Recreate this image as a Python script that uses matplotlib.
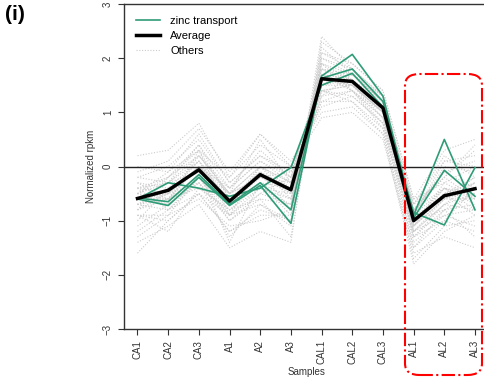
import matplotlib
matplotlib.use("Agg")
import matplotlib.pyplot as plt
from matplotlib.patches import FancyBboxPatch
from matplotlib.lines import Line2D

plt.rcParams['font.family'] = ['Liberation Sans', 'DejaVu Sans']

samples = ["CA1", "CA2", "CA3", "A1", "A2", "A3", "CAL1", "CAL2", "CAL3", "AL1", "AL2", "AL3"]

average = [-0.59, -0.44, -0.06, -0.64, -0.15, -0.43, 1.62, 1.57, 1.08, -1.00, -0.54, -0.41]

zinc_1 = [-0.58, -0.65, -0.15, -0.70, -0.30, -0.80, 1.63, 1.80, 1.20, -0.90, 0.50, -0.80]
zinc_2 = [-0.60, -0.72, -0.20, -0.72, -0.35, -1.05, 1.67, 2.07, 1.30, -0.95, -0.07, -0.55]
zinc_3 = [-0.60, -0.30, -0.40, -0.55, -0.40, -0.02, 1.50, 1.72, 1.10, -0.85, -1.08, -0.02]

others = [
    [-0.6, -0.5, 0.1, -0.7, -0.2, -0.5, 1.7, 1.6, 1.1, -1.1, -0.6, -0.3],
    [-0.4, -0.3, 0.2, -0.5, 0.0, -0.3, 1.5, 1.5, 1.0, -0.9, -0.4, -0.6],
    [-0.8, -0.6, -0.2, -0.9, -0.4, -0.6, 1.9, 1.4, 0.9, -1.3, -0.7, -0.5],
    [-1.6, -1.0, -0.5, -1.2, -0.8, -1.0, 2.4, 1.8, 1.3, -0.8, -0.2, 0.3],
    [0.2, 0.3, 0.8, -0.2, 0.6, 0.1, 1.0, 1.1, 0.6, -1.5, -1.0, -1.2],
    [-0.5, -0.2, 0.4, -0.6, -0.1, -0.4, 1.3, 1.7, 1.2, -1.2, -0.9, -0.8],
    [-0.7, -0.8, -0.3, -1.0, -0.5, -0.7, 1.8, 1.6, 1.0, -0.7, 0.2, -0.2],
    [-0.3, -0.6, 0.0, -0.4, 0.3, -0.2, 1.4, 1.3, 0.8, -1.0, -0.5, -0.9],
    [-1.0, -0.4, -0.1, -1.4, -0.3, -0.9, 2.1, 1.9, 1.4, -0.6, -0.3, 0.0],
    [-0.2, 0.0, 0.5, -0.3, 0.2, -0.1, 1.2, 1.2, 0.7, -1.7, -1.1, -1.0],
    [-0.9, -1.2, -0.4, -0.8, -0.6, -1.3, 1.9, 1.7, 1.2, -0.8, -0.1, -0.4],
    [-0.6, -0.3, -0.1, -0.5, -0.2, -0.3, 1.6, 1.5, 1.1, -1.0, -0.8, -0.5],
    [-0.5, -0.7, 0.3, -0.9, 0.0, -0.6, 1.5, 1.8, 1.2, -1.1, -0.3, -0.6],
    [-1.3, -0.9, -0.6, -1.1, -1.0, -0.8, 2.2, 1.7, 1.3, -0.9, 0.1, 0.2],
    [0.0, -0.1, 0.3, -0.2, 0.4, 0.0, 1.1, 1.3, 0.8, -1.4, -0.9, -1.1],
    [-0.7, -0.5, 0.0, -0.6, -0.4, -0.5, 1.7, 1.4, 1.0, -1.2, -0.6, -0.2],
    [-0.4, -0.8, -0.2, -0.7, -0.1, -0.8, 1.6, 1.6, 1.2, -0.8, -0.4, -0.7],
    [-0.8, -0.2, 0.2, -0.4, 0.1, -0.2, 1.4, 1.5, 0.9, -1.3, -1.0, -0.4],
    [-1.1, -0.7, -0.3, -1.3, -0.7, -1.1, 2.0, 1.8, 1.3, -0.7, -0.2, 0.4],
    [-0.3, -0.4, 0.1, -0.5, 0.5, -0.3, 1.3, 1.4, 0.7, -1.2, -0.7, -0.8],
    [-0.6, -0.6, -0.4, -0.8, -0.3, -0.4, 1.8, 1.5, 1.0, -1.0, -0.5, -0.3],
    [-0.5, -0.1, 0.6, -0.3, 0.2, -0.2, 1.2, 1.4, 0.8, -1.5, -0.8, -1.3],
    [-0.9, -0.9, -0.2, -1.0, -0.6, -0.7, 1.9, 1.6, 1.1, -0.9, 0.0, -0.1],
    [-0.4, -0.5, 0.0, -0.6, -0.2, -0.1, 1.5, 1.7, 1.2, -1.1, -0.6, -0.6],
    [-1.4, -1.1, -0.7, -1.5, -1.2, -1.4, 2.3, 1.9, 1.4, -0.6, 0.3, 0.5],
    [-0.2, -0.3, 0.4, -0.4, 0.1, -0.3, 1.4, 1.2, 0.6, -1.8, -1.2, -0.9],
    [-0.7, -0.4, -0.1, -0.7, -0.3, -0.6, 1.7, 1.5, 1.0, -1.0, -0.4, -0.5],
    [-0.5, -0.6, 0.2, -0.5, 0.0, -0.4, 1.6, 1.6, 1.1, -1.2, -0.7, -0.3],
    [-0.8, -0.5, -0.3, -0.9, -0.5, -0.2, 1.8, 1.7, 1.3, -0.8, -0.2, -0.6],
    [-0.1, 0.1, 0.7, -0.1, 0.6, 0.0, 0.9, 1.0, 0.5, -1.6, -1.3, -1.5],
    [-0.6, -0.7, -0.2, -0.8, -0.4, -0.7, 1.6, 1.5, 1.0, -1.1, -0.5, -0.2],
    [-1.2, -0.8, -0.5, -1.2, -0.9, -0.9, 2.1, 1.8, 1.2, -0.7, 0.1, 0.0],
    [-0.4, -0.2, 0.3, -0.6, -0.1, -0.5, 1.5, 1.6, 1.1, -1.3, -0.8, -0.7],
    [-0.7, -0.6, 0.0, -0.5, -0.2, -0.4, 1.7, 1.4, 0.9, -0.9, -0.6, -0.4],
    [-0.5, -0.3, 0.1, -0.7, 0.0, -0.3, 1.4, 1.5, 1.0, -1.1, -0.4, -0.8],
    [-0.9, -1.0, -0.5, -0.9, -0.7, -1.0, 2.0, 1.7, 1.2, -0.8, -0.1, 0.1],
]

green = '#2f9c78'
grey = '#cccccc'

fig = plt.figure(figsize=(4.85, 3.83), dpi=100)
W, H = 485, 383
ax_left, ax_right, ax_top, ax_bottom = 124, 488.5, 4, 329
ax = fig.add_axes([ax_left / W, 1 - ax_bottom / H, (ax_right - ax_left) / W, (ax_bottom - ax_top) / H])

x = list(range(1, len(samples) + 1))
for row in others:
    ax.plot(x, row, color=grey, lw=0.8, ls=(0, (1, 1.5)), zorder=1)
ax.axhline(0, color='#222222', lw=1.0, zorder=2)
for z in (zinc_1, zinc_2, zinc_3):
    ax.plot(x, z, color=green, lw=1.2, zorder=3)
ax.plot(x, average, color='black', lw=2.5, zorder=4)

ax.set_xlim(0.56, 12.44)
ax.set_ylim(-3, 3)
ax.set_xticks(x)
ax.set_xticklabels(samples, rotation=90, fontsize=7, color='#333333')
ax.set_yticks([-3, -2, -1, 0, 1, 2, 3])
ax.set_yticklabels(['\u22123', '\u22122', '\u22121', '0', '1', '2', '3'], rotation=90, va='center', fontsize=7, color='#333333')
ax.tick_params(axis='both', length=4, width=0.8, color='#333333', pad=4)
for s in ax.spines.values():
    s.set_color('#333333')
    s.set_linewidth(1.0)
ax.set_ylabel('Normalized rpkm', fontsize=7, color='#333333', labelpad=5)
ax.set_xlabel('Samples', fontsize=7, color='#333333', labelpad=2)

handles = [Line2D([], [], color=green, lw=1.2),
           Line2D([], [], color='black', lw=2.5),
           Line2D([], [], color=grey, lw=0.8, ls=(0, (1, 1.5)))]
ax.legend(handles, ['zinc transport', 'Average', 'Others'], loc='upper left',
          bbox_to_anchor=(0.005, 0.995), frameon=False, fontsize=8, handlelength=2.2,
          handletextpad=0.9, labelspacing=0.45, borderaxespad=0.5)

rect = FancyBboxPatch((405 / W, 1 - 375 / H), (482 - 405) / W, (375 - 74) / H,
                      boxstyle='round,pad=0,rounding_size=0.03', transform=fig.transFigure,
                      fill=False, edgecolor='red', lw=1.5, ls='-.', clip_on=False, zorder=10)
fig.patches.append(rect)

fig.text(5 / W, 1 - 5 / H, '(i)', fontsize=15, fontweight='bold', va='top', ha='left')

fig.savefig('out.png', dpi=100)
